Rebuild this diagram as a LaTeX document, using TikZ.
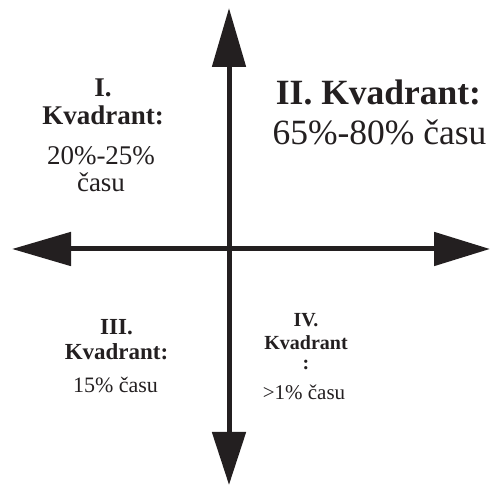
\documentclass[tikz,border=0pt]{standalone}
\usepackage{fontspec}
\setmainfont{Liberation Serif}
\usetikzlibrary{arrows.meta}
\definecolor{ink}{RGB}{35,31,32}
\tikzset{
  axis/.style={line width=5pt, draw=ink, fill=ink},
  hd/.style={font=\bfseries\fontsize{#1}{#1}\selectfont, anchor=base, inner sep=0pt, text=ink},
  tx/.style={font=\fontsize{#1}{#1}\selectfont, anchor=base, inner sep=0pt, text=ink}
}
\begin{document}
\begin{tikzpicture}[x=1pt,y=1pt]
\useasboundingbox (0,0) rectangle (491,486);
% axes (y = 486 - pixel row)
\coordinate (T) at (229,478);
\coordinate (B) at (229,1);
\coordinate (L) at (12,237);
\coordinate (R) at (490,237);
\draw[axis, {Triangle[length=53pt,width=33pt]}-{Triangle[length=59pt,width=33pt]}] (B) -- (T);
\draw[axis, {Triangle[length=59pt,width=33pt]}-{Triangle[length=56pt,width=33pt]}] (L) -- (R);
% I.
\node[hd=27] (q1a) at (103,389) {I.};
\node[hd=27] (q1b) at (103,361) {Kvadrant:};
\node[tx=27] (q1c) at (101,321) {20\%-25\%};
\node[tx=27] (q1d) at (101,294) {času};
% II.
\node[hd=35.5] (q2a) at (378.5,381) {II. Kvadrant:};
\node[tx=35.5] (q2b) at (379.5,341) {65\%-80\% času};
% III.
\node[hd=23] (q3a) at (116.5,151) {III.};
\node[hd=23] (q3b) at (116.5,126) {Kvadrant:};
\node[tx=22] (q3c) at (115.5,93) {15\% času};
% IV.
\node[hd=20] (q4a) at (306,159) {IV.};
\node[hd=20] (q4b) at (306,136) {Kvadrant};
\node[hd=20] (q4c) at (306,116) {:};
\node[tx=21] (q4d) at (304,86) {>1\% času};
\end{tikzpicture}
\end{document}
